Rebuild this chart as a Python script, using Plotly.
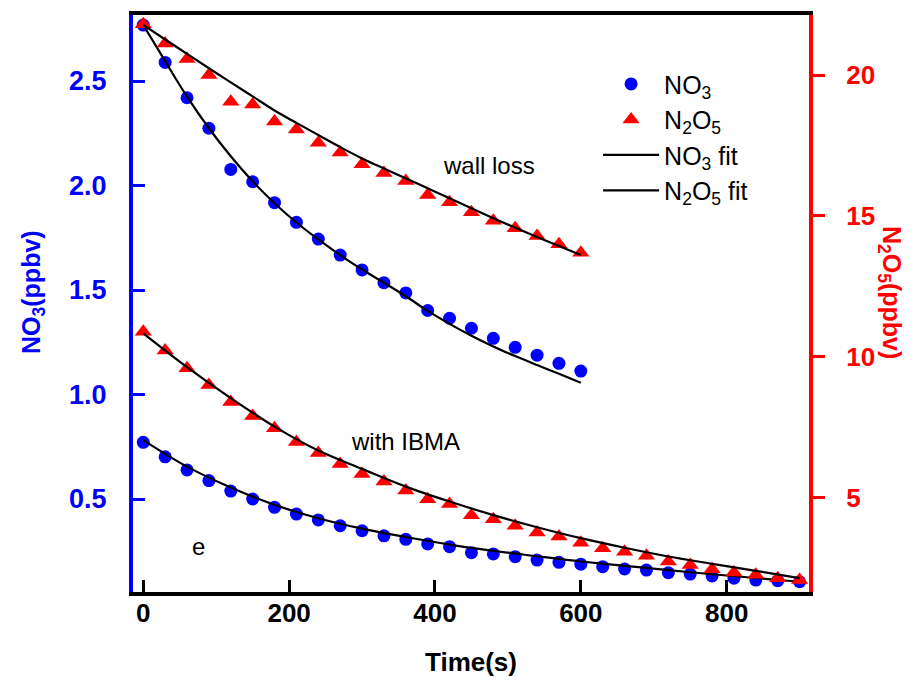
import plotly.graph_objects as go

BLUE = "#0000FF"
RED = "#FF0000"
FONT = "Arial, Liberation Sans, sans-serif"

# ---- data: wall loss experiment (0-600 s) ----
t_wall = [0, 30, 60, 90, 120, 150, 180, 210, 240, 270, 300, 330, 360, 390, 420,
          450, 480, 510, 540, 570, 600]
no3_wall = [2.768, 2.589, 2.42, 2.274, 2.077, 2.018, 1.918, 1.824, 1.744, 1.667,
            1.596, 1.535, 1.486, 1.402, 1.365, 1.317, 1.269, 1.226, 1.188, 1.149, 1.112]
n2o5_wall = [21.8, 21.12, 20.57, 20.0, 19.05, 18.95, 18.35, 18.07, 17.6, 17.25,
             16.83, 16.52, 16.24, 15.74, 15.48, 15.13, 14.83, 14.56, 14.29, 13.99, 13.69]
no3_wall_fit = [2.768, 2.595, 2.425, 2.274, 2.14, 2.02, 1.915, 1.823, 1.742, 1.667,
                1.598, 1.535, 1.47, 1.40, 1.338, 1.281, 1.23, 1.184, 1.141, 1.099, 1.056]
n2o5_wall_fit = [21.78, 21.26, 20.75, 20.24, 19.74, 19.24, 18.74, 18.3, 17.87, 17.44,
                 17.04, 16.68, 16.33, 15.98, 15.63, 15.27, 14.92, 14.58, 14.25, 13.93, 13.61]

# ---- data: with IBMA (0-900 s) ----
t_ibma = [0, 30, 60, 90, 120, 150, 180, 210, 240, 270, 300, 330, 360, 390, 420, 450,
          480, 510, 540, 570, 600, 630, 660, 690, 720, 750, 780, 810, 840, 870, 900]
no3_ibma = [0.771, 0.702, 0.639, 0.588, 0.538, 0.500, 0.460, 0.428, 0.400, 0.372,
            0.348, 0.324, 0.307, 0.285, 0.272, 0.243, 0.237, 0.224, 0.208, 0.197,
            0.188, 0.176, 0.165, 0.160, 0.147, 0.141, 0.132, 0.121, 0.112, 0.109, 0.104]
n2o5_ibma = [10.89, 10.22, 9.59, 9.0, 8.39, 7.9, 7.46, 6.97, 6.58, 6.19, 5.84, 5.57,
             5.25, 4.94, 4.77, 4.37, 4.23, 4.0, 3.76, 3.62, 3.40, 3.20, 3.08, 2.94,
             2.73, 2.61, 2.46, 2.34, 2.26, 2.14, 2.08]
t_ibma_fit = [0, 60, 120, 180, 240, 300, 360, 420, 480, 540, 600, 660, 720, 780, 840, 900]
no3_ibma_fit = [0.782, 0.655, 0.555, 0.472, 0.408, 0.358, 0.318, 0.282, 0.252, 0.226,
                0.201, 0.180, 0.160, 0.140, 0.122, 0.104]
n2o5_ibma_fit = [10.83, 9.63, 8.53, 7.52, 6.67, 6.02, 5.39, 4.86, 4.38, 3.95, 3.56,
                 3.22, 2.91, 2.65, 2.40, 2.14]

x_ticks = [0, 200, 400, 600, 800]
y1_ticks = [0.5, 1.0, 1.5, 2.0, 2.5]
y1_text = ["0.5", "1.0", "1.5", "2.0", "2.5"]
y2_ticks = [5, 10, 15, 20]

fig = go.Figure()
fig.add_trace(go.Scatter(
    x=t_wall + t_ibma, y=no3_wall + no3_ibma, mode="markers", name="NO<sub>3</sub>",
    legendrank=1, marker=dict(symbol="circle", size=13, color=BLUE)))
fig.add_trace(go.Scatter(
    x=t_wall + [None] + t_ibma_fit, y=no3_wall_fit + [None] + no3_ibma_fit,
    mode="lines", name="NO<sub>3</sub> fit", legendrank=3,
    line=dict(color="black", width=2.2, shape="spline")))
fig.add_trace(go.Scatter(
    x=t_wall + t_ibma, y=n2o5_wall + n2o5_ibma, mode="markers", name="N<sub>2</sub>O<sub>5</sub>",
    legendrank=2, yaxis="y2", marker=dict(symbol="triangle-up", size=15, color=RED)))
fig.add_trace(go.Scatter(
    x=t_wall + [None] + t_ibma_fit, y=n2o5_wall_fit + [None] + n2o5_ibma_fit,
    mode="lines", name="N<sub>2</sub>O<sub>5</sub> fit", legendrank=4, yaxis="y2",
    line=dict(color="black", width=2.2, shape="spline")))

fig.update_layout(
    width=919, height=682,
    margin=dict(l=125, r=118, t=7, b=98, autoexpand=False),
    paper_bgcolor="white", plot_bgcolor="white",
    font=dict(family=FONT),
    showlegend=True,
    legend=dict(x=0.688, y=0.92, xanchor="left", yanchor="top",
                font=dict(size=25, color="black", family=FONT),
                bgcolor="rgba(0,0,0,0)", traceorder="normal",
                itemwidth=56),
    xaxis=dict(range=[-14.1, 912.9], tickvals=x_ticks, ticks="inside", ticklen=12,
               tickwidth=3, tickcolor="black", showline=True, linecolor="black",
               linewidth=4, mirror=True, showgrid=False, zeroline=False,
               automargin=False, ticklabelstandoff=-5,
               tickfont=dict(size=26, color="black", family=FONT, weight="bold")),
    yaxis=dict(range=[0.055, 2.816], tickvals=y1_ticks, ticktext=y1_text, ticks="inside",
               ticklen=12, tickwidth=3, tickcolor=BLUE, showline=True, linecolor=BLUE,
               linewidth=4, showgrid=False, zeroline=False, automargin=False,
               ticklabelstandoff=17,
               tickfont=dict(size=27, color=BLUE, family=FONT, weight="bold")),
    yaxis2=dict(range=[1.65, 22.13], tickvals=y2_ticks, ticks="outside", ticklen=12,
                tickwidth=3, tickcolor=RED, showline=True, linecolor=RED, linewidth=4,
                overlaying="y", side="right", showgrid=False, zeroline=False,
                automargin=False, ticklabelstandoff=16,
                tickfont=dict(size=26, color=RED, family=FONT, weight="bold")),
)

# axis titles
fig.add_annotation(text="Time(s)", xref="paper", yref="paper", x=0.5, y=0, yshift=-87,
                   showarrow=False,
                   font=dict(size=26, color="black", family=FONT, weight="bold"))
fig.add_annotation(text="NO<sub>3</sub>(ppbv)", xref="paper", yref="paper",
                   x=0, xshift=-118, y=0.52, textangle=-90, showarrow=False,
                   font=dict(size=25, color=BLUE, family=FONT, weight="bold"))
fig.add_annotation(text="N<sub>2</sub>O<sub>5</sub>(ppbv)", xref="paper", yref="paper",
                   x=1.0, xshift=99, y=0.52, textangle=90, showarrow=False,
                   font=dict(size=25, color=RED, family=FONT, weight="bold"))

# in-plot labels
fig.add_annotation(text="wall loss", x=474, y=2.096, showarrow=False,
                   font=dict(size=24, color="black", family=FONT))
fig.add_annotation(text="with IBMA", x=359, y=0.776, showarrow=False,
                   font=dict(size=24, color="black", family=FONT))
fig.add_annotation(text="e", x=76, y=0.275, showarrow=False,
                   font=dict(size=24, color="black", family=FONT))

fig.write_html("out.html")
